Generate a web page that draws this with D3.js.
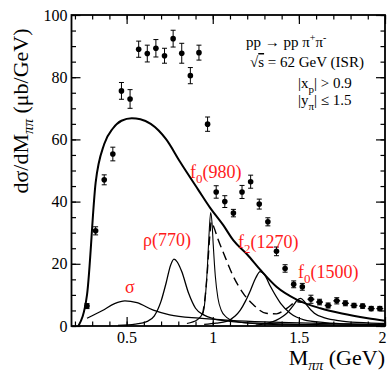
<!DOCTYPE html>
<html>
<head>
<meta charset="utf-8">
<script src="https://cdn.jsdelivr.net/npm/d3@7"></script>
<style>
  body { margin: 0; background: #fff; }
  svg { display: block; font-family: "Liberation Serif", "Times New Roman", serif; }
</style>
</head>
<body>
<div id="chart"></div>
<script>
// measured points: mass (GeV), dsigma/dM (ub/GeV), error
const massPts = [0.27, 0.32, 0.37, 0.42, 0.47, 0.52, 0.57, 0.62, 0.67, 0.72, 0.77, 0.82, 0.87, 0.92, 0.97,
  1.02, 1.07, 1.12, 1.17, 1.22, 1.27, 1.32, 1.37, 1.42, 1.47, 1.52, 1.57, 1.62, 1.67, 1.72, 1.77, 1.82, 1.87, 1.92, 1.97]
const xsecPts = [6.4, 30.6, 47, 55.3, 75.6, 73, 89, 87.6, 89.3, 86.9, 92.4, 87.7, 80.5, 87.9, 64.9,
  43.1, 40, 36.3, 43.1, 46.4, 39.2, 33.5, 24, 18.5, 13.4, 12.6, 8.6, 7.7, 6.6, 8.1, 7.3, 6.6, 6.4, 5.6, 5.6]
const errPts = [0.8, 1.3, 1.6, 2.2, 2.7, 3, 2.6, 2.7, 2.8, 2.4, 2.7, 3.2, 2.6, 2.4, 2.3,
  2, 1.9, 1.2, 2.1, 2.1, 1.6, 1.3, 1.4, 1.2, 1.1, 1.1, 1.3, 0.9, 0.8, 1, 0.8, 0.7, 0.7, 0.7, 0.7]

// model curves
const totalCurve = [[0.22, 0], [0.27, 10], [0.32, 46], [0.37, 58.5], [0.42, 63.5], [0.47, 66], [0.53, 66.8],
  [0.58, 66.5], [0.64, 65], [0.73, 60], [0.81, 52.8], [0.917, 43.7], [0.985, 38], [1.06, 32.5], [1.12, 27.5],
  [1.2, 23], [1.277, 18], [1.37, 12.6], [1.49, 8.4], [1.625, 5.7], [1.75, 4.0], [1.9, 2.5], [2.0, 1.7]]
const sigmaCurve = [[0.27, 2.5], [0.36, 5], [0.43, 7.2], [0.49, 8.1], [0.56, 7.5], [0.655, 5.1], [0.75, 3.6],
  [0.92, 2.5], [1.1, 1.8], [1.3, 1.3], [1.5, 1.0], [1.75, 0.7], [2.0, 0.5]]
const rhoCurve = [[0.45, 0.2], [0.55, 0.6], [0.62, 1.5], [0.66, 3.2], [0.70, 8], [0.73, 14], [0.755, 19.5],
  [0.775, 21.5], [0.795, 20.5], [0.82, 17.5], [0.86, 10.5], [0.90, 5.7], [0.95, 3.5], [1.0, 2.4], [1.1, 1.5],
  [1.3, 0.8], [1.6, 0.4], [2.0, 0.2]]
const f0980Curve = [[0.85, 0.8], [0.91, 2], [0.945, 4.5], [0.958, 10], [0.968, 18], [0.978, 29], [0.988, 36.5],
  [0.996, 33], [1.003, 26], [1.015, 16], [1.03, 9], [1.05, 5], [1.08, 2.8], [1.13, 1.5], [1.25, 0.7], [1.5, 0.3]]
const f0980Dashed = [[0.94, 3.5], [0.955, 9], [0.968, 17], [0.98, 27], [0.992, 33.5], [1.005, 32], [1.03, 28],
  [1.063, 23.4], [1.12, 15.9], [1.177, 10.5], [1.236, 6.8], [1.31, 4.1], [1.37, 3.9], [1.43, 5.7], [1.49, 7.8],
  [1.52, 7.6]]
const f2Curve = [[0.95, 0.5], [1.02, 0.9], [1.08, 1.5], [1.13, 3.2], [1.16, 5.1], [1.19, 8], [1.22, 11.6],
  [1.25, 15.5], [1.275, 17.5], [1.30, 16.5], [1.336, 12.6], [1.394, 7.3], [1.45, 4.1], [1.53, 2], [1.65, 1.1],
  [1.8, 0.6], [2.0, 0.4]]
const f01500Curve = [[1.25, 0.3], [1.33, 1.1], [1.37, 1.9], [1.41, 3.2], [1.43, 4.1], [1.47, 6.8], [1.49, 8.3],
  [1.51, 8.9], [1.53, 8.0], [1.545, 6.8], [1.59, 4.1], [1.65, 2.6], [1.75, 1.6], [1.9, 1.0], [2.0, 0.8]]

const xTicks = [0.5, 1, 1.5, 2]
const yTicks = [0, 20, 40, 60, 80, 100]

const width = 387
const height = 374
const margin = { top: 15, right: 2, bottom: 48, left: 71.5 }

const x = d3.scaleLinear().domain([0.18, 2]).range([margin.left, width - margin.right])
const y = d3.scaleLinear().domain([0, 100]).range([height - margin.bottom, margin.top])

const svg = d3.select("#chart").append("svg")
  .attr("width", width)
  .attr("height", height)

const plotW = width - margin.left - margin.right
const plotH = height - margin.top - margin.bottom

// clip so curves stay inside the frame
svg.append("clipPath").attr("id", "clip")
  .append("rect")
    .attr("x", margin.left).attr("y", margin.top)
    .attr("width", plotW).attr("height", plotH)

const xMinor = d3.range(0.2, 2.001, 0.1)
const yMinor = d3.range(0, 100.01, 5)

function styleAxis(g) {
  g.select(".domain").remove()
  g.selectAll("line").attr("stroke", "#000").attr("stroke-width", 1.2)
  g.selectAll("text")
    .attr("font-family", "Liberation Serif, serif")
    .attr("font-size", 16)
    .attr("fill", "#000")
}

// bottom
svg.append("g")
  .attr("transform", `translate(0,${y(0)})`)
  .call(d3.axisBottom(x).tickValues(xMinor).tickSize(-4.5).tickFormat(""))
  .call(styleAxis)
svg.append("g")
  .attr("transform", `translate(0,${y(0)})`)
  .call(d3.axisBottom(x).tickValues(xTicks).tickSize(-9).tickPadding(6).tickFormat(d3.format("")))
  .call(styleAxis)
  .call(g => g.selectAll("text").filter(d => d === 2).attr("text-anchor", "end").attr("dx", 1))
// top
svg.append("g")
  .attr("transform", `translate(0,${y(100)})`)
  .call(d3.axisTop(x).tickValues(xMinor).tickSize(-4.5).tickFormat(""))
  .call(styleAxis)
svg.append("g")
  .attr("transform", `translate(0,${y(100)})`)
  .call(d3.axisTop(x).tickValues(xTicks).tickSize(-9).tickFormat(""))
  .call(styleAxis)
// left
svg.append("g")
  .attr("transform", `translate(${x.range()[0]},0)`)
  .call(d3.axisLeft(y).tickValues(yMinor).tickSize(-4.5).tickFormat(""))
  .call(styleAxis)
svg.append("g")
  .attr("transform", `translate(${x.range()[0]},0)`)
  .call(d3.axisLeft(y).tickValues(yTicks).tickSize(-9).tickPadding(4))
  .call(styleAxis)
// right
svg.append("g")
  .attr("transform", `translate(${x.range()[1]},0)`)
  .call(d3.axisRight(y).tickValues(yMinor).tickSize(-4.5).tickFormat(""))
  .call(styleAxis)
svg.append("g")
  .attr("transform", `translate(${x.range()[1]},0)`)
  .call(d3.axisRight(y).tickValues(yTicks).tickSize(-9).tickFormat(""))
  .call(styleAxis)

svg.append("rect")
  .attr("x", margin.left).attr("y", margin.top)
  .attr("width", plotW).attr("height", plotH)
  .attr("fill", "none")
  .attr("stroke", "#000")
  .attr("stroke-width", 1.8)

const line = d3.line()
  .x(d => x(d[0]))
  .y(d => y(d[1]))
  .curve(d3.curveMonotoneX)

const curves = svg.append("g").attr("clip-path", "url(#clip)").attr("fill", "none").attr("stroke", "#000")

curves.append("path").attr("d", line(sigmaCurve)).attr("stroke-width", 1.3)
curves.append("path").attr("d", line(rhoCurve)).attr("stroke-width", 1.3)
curves.append("path").attr("d", line(f0980Curve)).attr("stroke-width", 1.1)
curves.append("path").attr("d", line(f0980Dashed)).attr("stroke-width", 1.4).attr("stroke-dasharray", "9,5")
curves.append("path").attr("d", line(f2Curve)).attr("stroke-width", 1.3)
curves.append("path").attr("d", line(f01500Curve)).attr("stroke-width", 1.3)
curves.append("path").attr("d", line(totalCurve)).attr("stroke-width", 2)

// data points with error bars
const pts = massPts.map((m, i) => ({ m, v: xsecPts[i], e: errPts[i] }))
const pg = svg.append("g").attr("stroke", "#000").attr("stroke-width", 1)
const pt = pg.selectAll("g").data(pts).join("g")
pt.append("line")
  .attr("x1", d => x(d.m)).attr("x2", d => x(d.m))
  .attr("y1", d => y(d.v - d.e)).attr("y2", d => y(d.v + d.e))
pt.append("line")
  .attr("x1", d => x(d.m) - 2.5).attr("x2", d => x(d.m) + 2.5)
  .attr("y1", d => y(d.v + d.e)).attr("y2", d => y(d.v + d.e))
pt.append("line")
  .attr("x1", d => x(d.m) - 2.5).attr("x2", d => x(d.m) + 2.5)
  .attr("y1", d => y(d.v - d.e)).attr("y2", d => y(d.v - d.e))
pt.filter(d => d.m > 1.55).append("line")
  .attr("x1", d => x(d.m - 0.02)).attr("x2", d => x(d.m + 0.02))
  .attr("y1", d => y(d.v)).attr("y2", d => y(d.v))
  .attr("stroke-width", 1.3)
pt.append("circle")
  .attr("cx", d => x(d.m)).attr("cy", d => y(d.v))
  .attr("r", 2.8)
  .attr("fill", "#000")
  .attr("stroke", "none")

// axis titles
const yTitle = svg.append("text")
  .attr("transform", `translate(28,${(margin.top + 207) / 2}) rotate(-90)`)
  .attr("text-anchor", "middle")
  .attr("font-size", 22)
yTitle.append("tspan").text("dσ/dM")
yTitle.append("tspan").attr("font-size", 15).attr("dy", 5).attr("font-style", "italic").text("ππ")
yTitle.append("tspan").attr("dy", -5).text(" (μb/GeV)")

const xTitle = svg.append("text")
  .attr("x", 385).attr("y", 365)
  .attr("text-anchor", "end")
  .attr("font-size", 22)
xTitle.append("tspan").text("M")
xTitle.append("tspan").attr("font-size", 15).attr("dy", 5).attr("font-style", "italic").text("ππ")
xTitle.append("tspan").attr("dy", -5).text(" (GeV)")

// resonance labels
function subLabel(px, py, main, sub, rest) {
  const t = svg.append("text")
    .attr("x", px).attr("y", py)
    .attr("fill", "#ff1a1a")
    .attr("font-size", 18)
  t.append("tspan").text(main)
  if (sub) {
    t.append("tspan").attr("font-size", 13).attr("dy", 5).text(sub)
    t.append("tspan").attr("dy", -5).text(rest)
  }
  return t
}
subLabel(125, 293, "σ")
subLabel(143, 246, "ρ(770)")
subLabel(190, 178, "f", "0", "(980)")
subLabel(238, 248, "f", "2", "(1270)")
subLabel(298, 278, "f", "0", "(1500)")

// reaction info
const info = svg.append("g").attr("font-size", 15).attr("fill", "#000")
const l1 = info.append("text").attr("x", 246).attr("y", 47)
l1.append("tspan").text("pp → pp π")
l1.append("tspan").attr("font-size", 10).attr("dy", -6).text("+")
l1.append("tspan").attr("dy", 6).text("π")
l1.append("tspan").attr("font-size", 10).attr("dy", -6).text("-")
const l2 = info.append("text").attr("x", 250).attr("y", 67)
l2.append("tspan").text("√")
l2.append("tspan").attr("text-decoration", "overline").text("s")
l2.append("tspan").text(" = 62 GeV (ISR)")
const l3 = info.append("text").attr("x", 298).attr("y", 88)
l3.append("tspan").text("|x")
l3.append("tspan").attr("font-size", 11).attr("dy", 5).text("p")
l3.append("tspan").attr("dy", -5).text("| > 0.9")
const l4 = info.append("text").attr("x", 298).attr("y", 105)
l4.append("tspan").text("|y")
l4.append("tspan").attr("font-size", 11).attr("dy", 5).text("π")
l4.append("tspan").attr("dy", -5).text("| ≤ 1.5")
</script>
</body>
</html>
